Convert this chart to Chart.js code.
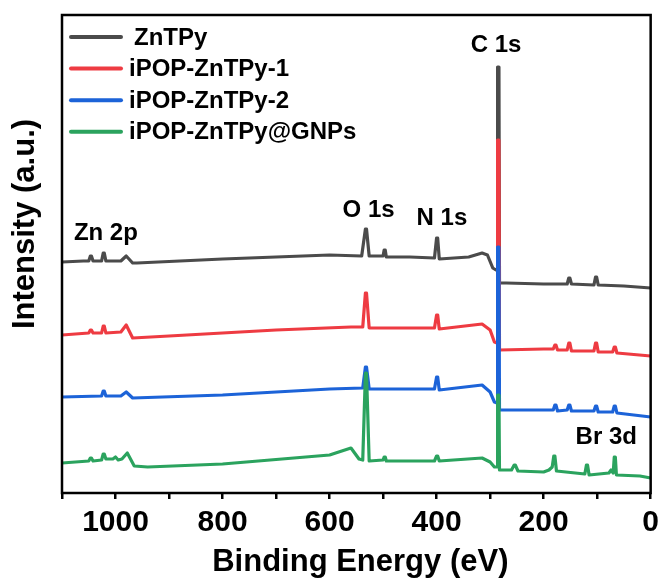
<!DOCTYPE html>
<html>
<head>
<meta charset="utf-8">
<script src="https://cdn.jsdelivr.net/npm/chart.js@4"></script>
<style>
  html, body { margin: 0; padding: 0; background: #fff; }
  #wrap { width: 665px; height: 583px; }
</style>
</head>
<body>
<div id="wrap"><canvas id="xps" width="665" height="583"></canvas></div>
<script>
// XPS survey spectra, intensity in arbitrary units (curves offset for clarity)
const seriesNames = ['ZnTPy', 'iPOP-ZnTPy-1', 'iPOP-ZnTPy-2', 'iPOP-ZnTPy@GNPs'];
const seriesColors = ['#4b4b4b', '#ee3b42', '#1c63d8', '#2ba35e'];

const znEnergy = [1100, 1060, 1050, 1047, 1045, 1042, 1026, 1023, 1021, 1018, 990, 980, 968, 960, 800, 600, 540, 533, 531, 526, 500, 498, 496, 494, 450, 404, 400, 398, 395, 340, 315, 305, 295, 289, 287, 286, 283.5, 282.5, 270, 200, 156, 153, 151, 148, 106, 103, 101, 98, 50, 0];
const znIntensity = [231, 232, 232, 237, 237, 232, 232, 240, 240, 232, 232, 237, 230, 230, 234, 238, 237, 264, 264, 237, 237, 243, 243, 236, 236, 235, 255, 255, 234, 236, 240, 238, 225, 223, 223, 426, 426, 210, 210, 209, 209, 215, 215, 209, 208, 216, 216, 208, 207, 205];

const pop1Energy = [1100, 1050, 1047, 1045, 1042, 1026, 1023, 1021, 1018, 990, 980, 968, 900, 700, 560, 538, 533, 531, 526, 404, 400, 398, 395, 315, 300, 292, 287, 286, 283.5, 282.5, 200, 182, 179, 177, 174, 156, 153, 151, 148, 106, 103, 101, 98, 71, 68, 66, 63, 0];
const pop1Intensity = [158, 160, 163, 163, 160, 160, 167, 167, 160, 161, 168, 155, 157, 163, 166, 166, 200, 200, 165, 165, 178, 178, 164, 169, 163, 151, 150, 353, 353, 143, 144, 144, 148, 148, 143, 143, 150, 150, 142, 142, 150, 150, 141, 141, 146, 146, 140, 137];

const pop2Energy = [1100, 1026, 1023, 1021, 1018, 990, 980, 968, 800, 600, 538, 533, 531, 526, 404, 400, 398, 395, 315, 300, 292, 287, 286, 283.5, 282.5, 200, 182, 179, 177, 174, 156, 153, 151, 148, 106, 103, 101, 98, 71, 68, 66, 63, 0];
const pop2Intensity = [96, 97, 102, 102, 97, 97, 101, 95, 98, 104, 105, 126, 126, 104, 104, 116, 116, 103, 108, 101, 91, 90, 246, 246, 83, 83, 83, 88, 88, 82, 83, 88, 88, 82, 82, 87, 87, 81, 81, 87, 87, 80, 76];

const gnpEnergy = [1100, 1050, 1047, 1045, 1042, 1026, 1023, 1021, 1018, 1005, 1000, 995, 988, 978, 965, 940, 800, 600, 560, 545, 538, 533, 531, 526, 500, 498, 496, 494, 404, 400, 398, 395, 315, 300, 292, 287, 286, 283.5, 282.5, 260, 255, 253, 248, 200, 190, 184, 181, 179, 176, 123, 120, 118, 115, 78, 74, 70, 68, 66, 64, 20, 0];
const gnpIntensity = [30, 32, 35, 35, 32, 33, 39, 39, 34, 34, 36, 33, 34, 40, 27, 26, 29, 38, 45, 34, 33, 120, 120, 32, 33, 36, 36, 32, 32, 37, 37, 32, 35, 31, 26, 26, 98, 98, 23, 23, 28, 28, 22, 21, 23, 26, 37, 37, 22, 19, 28, 28, 18, 20, 23, 20, 36, 36, 18, 17, 15];

const xTicks = [0, 200, 400, 600, 800, 1000];
const peakNames = ['Zn 2p', 'O 1s', 'N 1s', 'C 1s', 'Br 3d'];
const peakEnergy = [1018, 527, 390, 289, 83];
const peakHeight = [260, 283, 275, 448, 56];

const FONT = "Arial, 'Liberation Sans', sans-serif";

function toPoints(xs, ys) {
  return xs.map((x, i) => ({ x: x, y: ys[i] }));
}

const energies = [znEnergy, pop1Energy, pop2Energy, gnpEnergy];
const intensities = [znIntensity, pop1Intensity, pop2Intensity, gnpIntensity];

// later spectra are drawn over earlier ones
const datasets = seriesNames.map((name, i) => ({
  label: name,
  data: toPoints(energies[i], intensities[i]),
  borderColor: seriesColors[i],
  backgroundColor: seriesColors[i],
  borderWidth: 3.2,
  borderJoinStyle: 'round',
  borderCapStyle: 'round',
  pointRadius: 0,
  tension: 0,
  fill: false,
  order: seriesNames.length - 1 - i
}));

// frame, inner legend, peak labels and axis titles
const decorPlugin = {
  id: 'decor',
  afterDraw(chart) {
    const c = chart.ctx;
    const a = chart.chartArea;
    const xs = chart.scales.x, ys = chart.scales.y;
    c.save();

    c.strokeStyle = '#000';
    c.lineWidth = 2.5;
    c.strokeRect(a.left, a.top, a.right - a.left, a.bottom - a.top);

    // legend inside the plot
    c.font = 'bold 24px ' + FONT;
    c.textBaseline = 'middle';
    c.textAlign = 'left';
    chart.data.datasets.forEach((ds, i) => {
      const y = 37 + i * 31.6;
      c.strokeStyle = ds.borderColor;
      c.lineWidth = 4;
      c.lineCap = 'round';
      c.beginPath();
      c.moveTo(71, y);
      c.lineTo(121, y);
      c.stroke();
      c.fillStyle = '#000';
      c.fillText(ds.label, i === 0 ? 134 : 129, y + 1);
    });

    // peak labels
    c.font = 'bold 24px ' + FONT;
    c.textAlign = 'center';
    c.fillStyle = '#000';
    peakNames.forEach((t, i) => {
      c.fillText(t, xs.getPixelForValue(peakEnergy[i]), ys.getPixelForValue(peakHeight[i]));
    });

    // axis titles
    c.font = 'bold 31px ' + FONT;
    c.fillText('Binding Energy (eV)', (a.left + a.right) / 2 + 4, 562);
    c.translate(25, 224);
    c.rotate(-Math.PI / 2);
    c.fillText('Intensity (a.u.)', 0, 0);
    c.restore();
  }
};

new Chart(document.getElementById('xps'), {
  type: 'line',
  data: { datasets: datasets },
  options: {
    responsive: false,
    animation: false,
    layout: { padding: { left: 62, right: 12, top: 15, bottom: 0 } },
    plugins: { legend: { display: false }, tooltip: { enabled: false } },
    scales: {
      x: {
        type: 'linear',
        reverse: true,
        min: 0,
        max: 1100,
        afterFit(scale) { scale.height = 90; },
        border: { display: false },
        grid: { drawOnChartArea: false, tickLength: 6, color: '#000', lineWidth: 2.5 },
        ticks: {
          stepSize: 100,
          autoSkip: false,
          maxRotation: 0,
          padding: 6,
          color: '#000',
          font: { family: FONT, size: 30, weight: 'bold' },
          callback: v => (xTicks.includes(v) ? String(v) : '')
        }
      },
      y: {
        display: false,
        min: 0,
        max: 478
      }
    }
  },
  plugins: [decorPlugin]
});
</script>
</body>
</html>
